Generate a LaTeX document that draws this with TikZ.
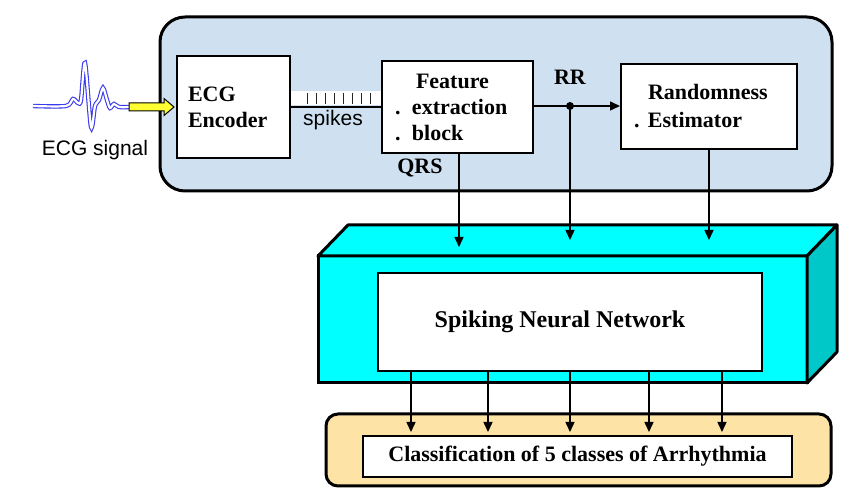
\documentclass[tikz,border=0pt]{standalone}
\usepackage{fontspec}
\setmainfont{Liberation Serif}
\setsansfont{Liberation Sans}
\usepackage{xcolor}
\definecolor{PanelBlue}{HTML}{CFE1F1}
\definecolor{NetCyan}{HTML}{00FFFF}
\definecolor{NetSide}{HTML}{00C8C8}
\definecolor{PanelGold}{HTML}{FDE3A6}
\definecolor{ArrowYellow}{HTML}{FFFF33}
\definecolor{WaveBlue}{HTML}{3A3AF0}
\usepackage{tikz}
\usetikzlibrary{arrows.meta,positioning}
\tikzstyle{panelNode}=[rectangle, draw=black, line width=1.5pt, inner sep=0pt, outer sep=0pt]
\tikzstyle{blockNode}=[rectangle, draw=black, line width=1pt, fill=white, inner sep=0pt,
  font=\bfseries\fontsize{11}{13}\selectfont]
\tikzstyle{labelNode}=[inner sep=0pt, font=\bfseries\fontsize{11}{13}\selectfont]
\tikzstyle{sansNode}=[inner sep=0pt, font=\sffamily\fontsize{10.5}{12}\selectfont]
\tikzstyle{arr}=[-{Triangle[length=5pt,width=4.5pt]}, line width=0.75pt]
\tikzstyle{sigArrow}=[draw=black, line width=0.5pt, line join=miter, fill=ArrowYellow]
\tikzstyle{ecgLine}=[draw=WaveBlue, line width=0.55pt, double=white, double distance=1.1pt]

\begin{document}
\begin{tikzpicture}[x=0.5pt, y=-0.5pt]
\useasboundingbox (0,0) rectangle (859,496);
\node[panelNode, rounded corners=12.5pt, fill=PanelBlue, minimum width=336pt, minimum height=87pt] (front) at (496,104) {};
\draw[ecgLine] plot[smooth, tension=0.5] coordinates {(33,106) (66,106) (73,99) (78,103) (81,100) (85,63) (91,127)
  (95,106) (99,100) (103,88) (107,100) (110,108) (114,104) (119,107) (130,107)};
\node[blockNode, text width=45.5pt, inner xsep=5.5pt, minimum height=51pt, align=left] (enc) at (233.5,107) {ECG\\Encoder};
\coordinate (tipin) at ([xshift=-1pt]enc.west);
\draw[sigArrow] (tipin) -- ++(-10,-8.5) -- ++(0,4.5) -- ++(-35,0) -- ++(0,8) -- ++(35,0) -- ++(0,4.5) -- cycle;
\node[sansNode] (sig) at (95,150) {ECG signal};
\node[blockNode, text width=62.5pt, inner xsep=6.5pt, minimum height=46pt, align=left] (feat) at (457.5,107)
  {\hspace*{10.5pt}Feature\\\makebox[8.5pt][l]{.}extraction\\\makebox[8.5pt][l]{.}block};
\node[blockNode, text width=75pt, inner xsep=6.5pt, minimum height=42.5pt, align=left] (rand) at (709,106.5)
  {\hspace*{7pt}Randomness\\[1pt]\makebox[7pt][l]{.}Estimator};
\fill[white] (291,91) rectangle (381,105);
\foreach \x in {307,316,...,370}
  \draw[line width=0.5pt, gray!30!black] (\x,93) -- (\x,104);
\draw[line width=1pt] (enc) -- (feat);
\node[sansNode] (spk) at (333,120) {spikes};
\coordinate (rr) at (570,106);
\coordinate (qrsend) at (459,247);
\coordinate (rrend) at (570,240);
\coordinate (randend) at (709,240);
\node[labelNode] (rrlab) at (570,77) {RR};
\node[labelNode] (qrslab) at (420,168) {QRS};

\node[panelNode, fill=NetCyan, minimum width=244.5pt, minimum height=63.5pt] (snn) at (562.5,319.5) {};
\draw[line width=1.5pt, line join=round, fill=NetCyan] (snn.north west) -- ++(30,-31) -- ++(489,0) -- (snn.north east) -- cycle;
\draw[line width=1.5pt, line join=round, fill=NetSide] (snn.north east) -- ++(30,-31) -- ++(0,127) -- (snn.south east) -- cycle;
\node[blockNode, minimum width=192pt, minimum height=49pt, font=\bfseries\fontsize{12}{14}\selectfont] (snnin) at (570,322)
  {Spiking Neural Network\hspace*{10pt}};

\node[panelNode, rounded corners=6pt, fill=PanelGold, minimum width=252.5pt, minimum height=36pt] (out) at (578.5,450) {};
\node[blockNode, minimum width=214.5pt, minimum height=20.5pt] (cls) at (577.5,456.5)
  {Classification of 5 classes of Arrhythmia};

\draw[arr] (feat.east |- rr) -- (rand.west |- rr);
\fill (rr) circle[radius=2pt];
\draw[arr] (feat.south -| qrsend) -- (qrsend);
\draw[arr] (rr) -- (rrend);
\draw[arr] (rand.south) -- (randend);
\foreach \x in {411,488,570,649,722} {
  \coordinate (tap) at (\x,0);
  \draw[arr, shorten >=1.5pt] (snnin.south -| tap) -- (cls.north -| tap);
}
\end{tikzpicture}
\end{document}
